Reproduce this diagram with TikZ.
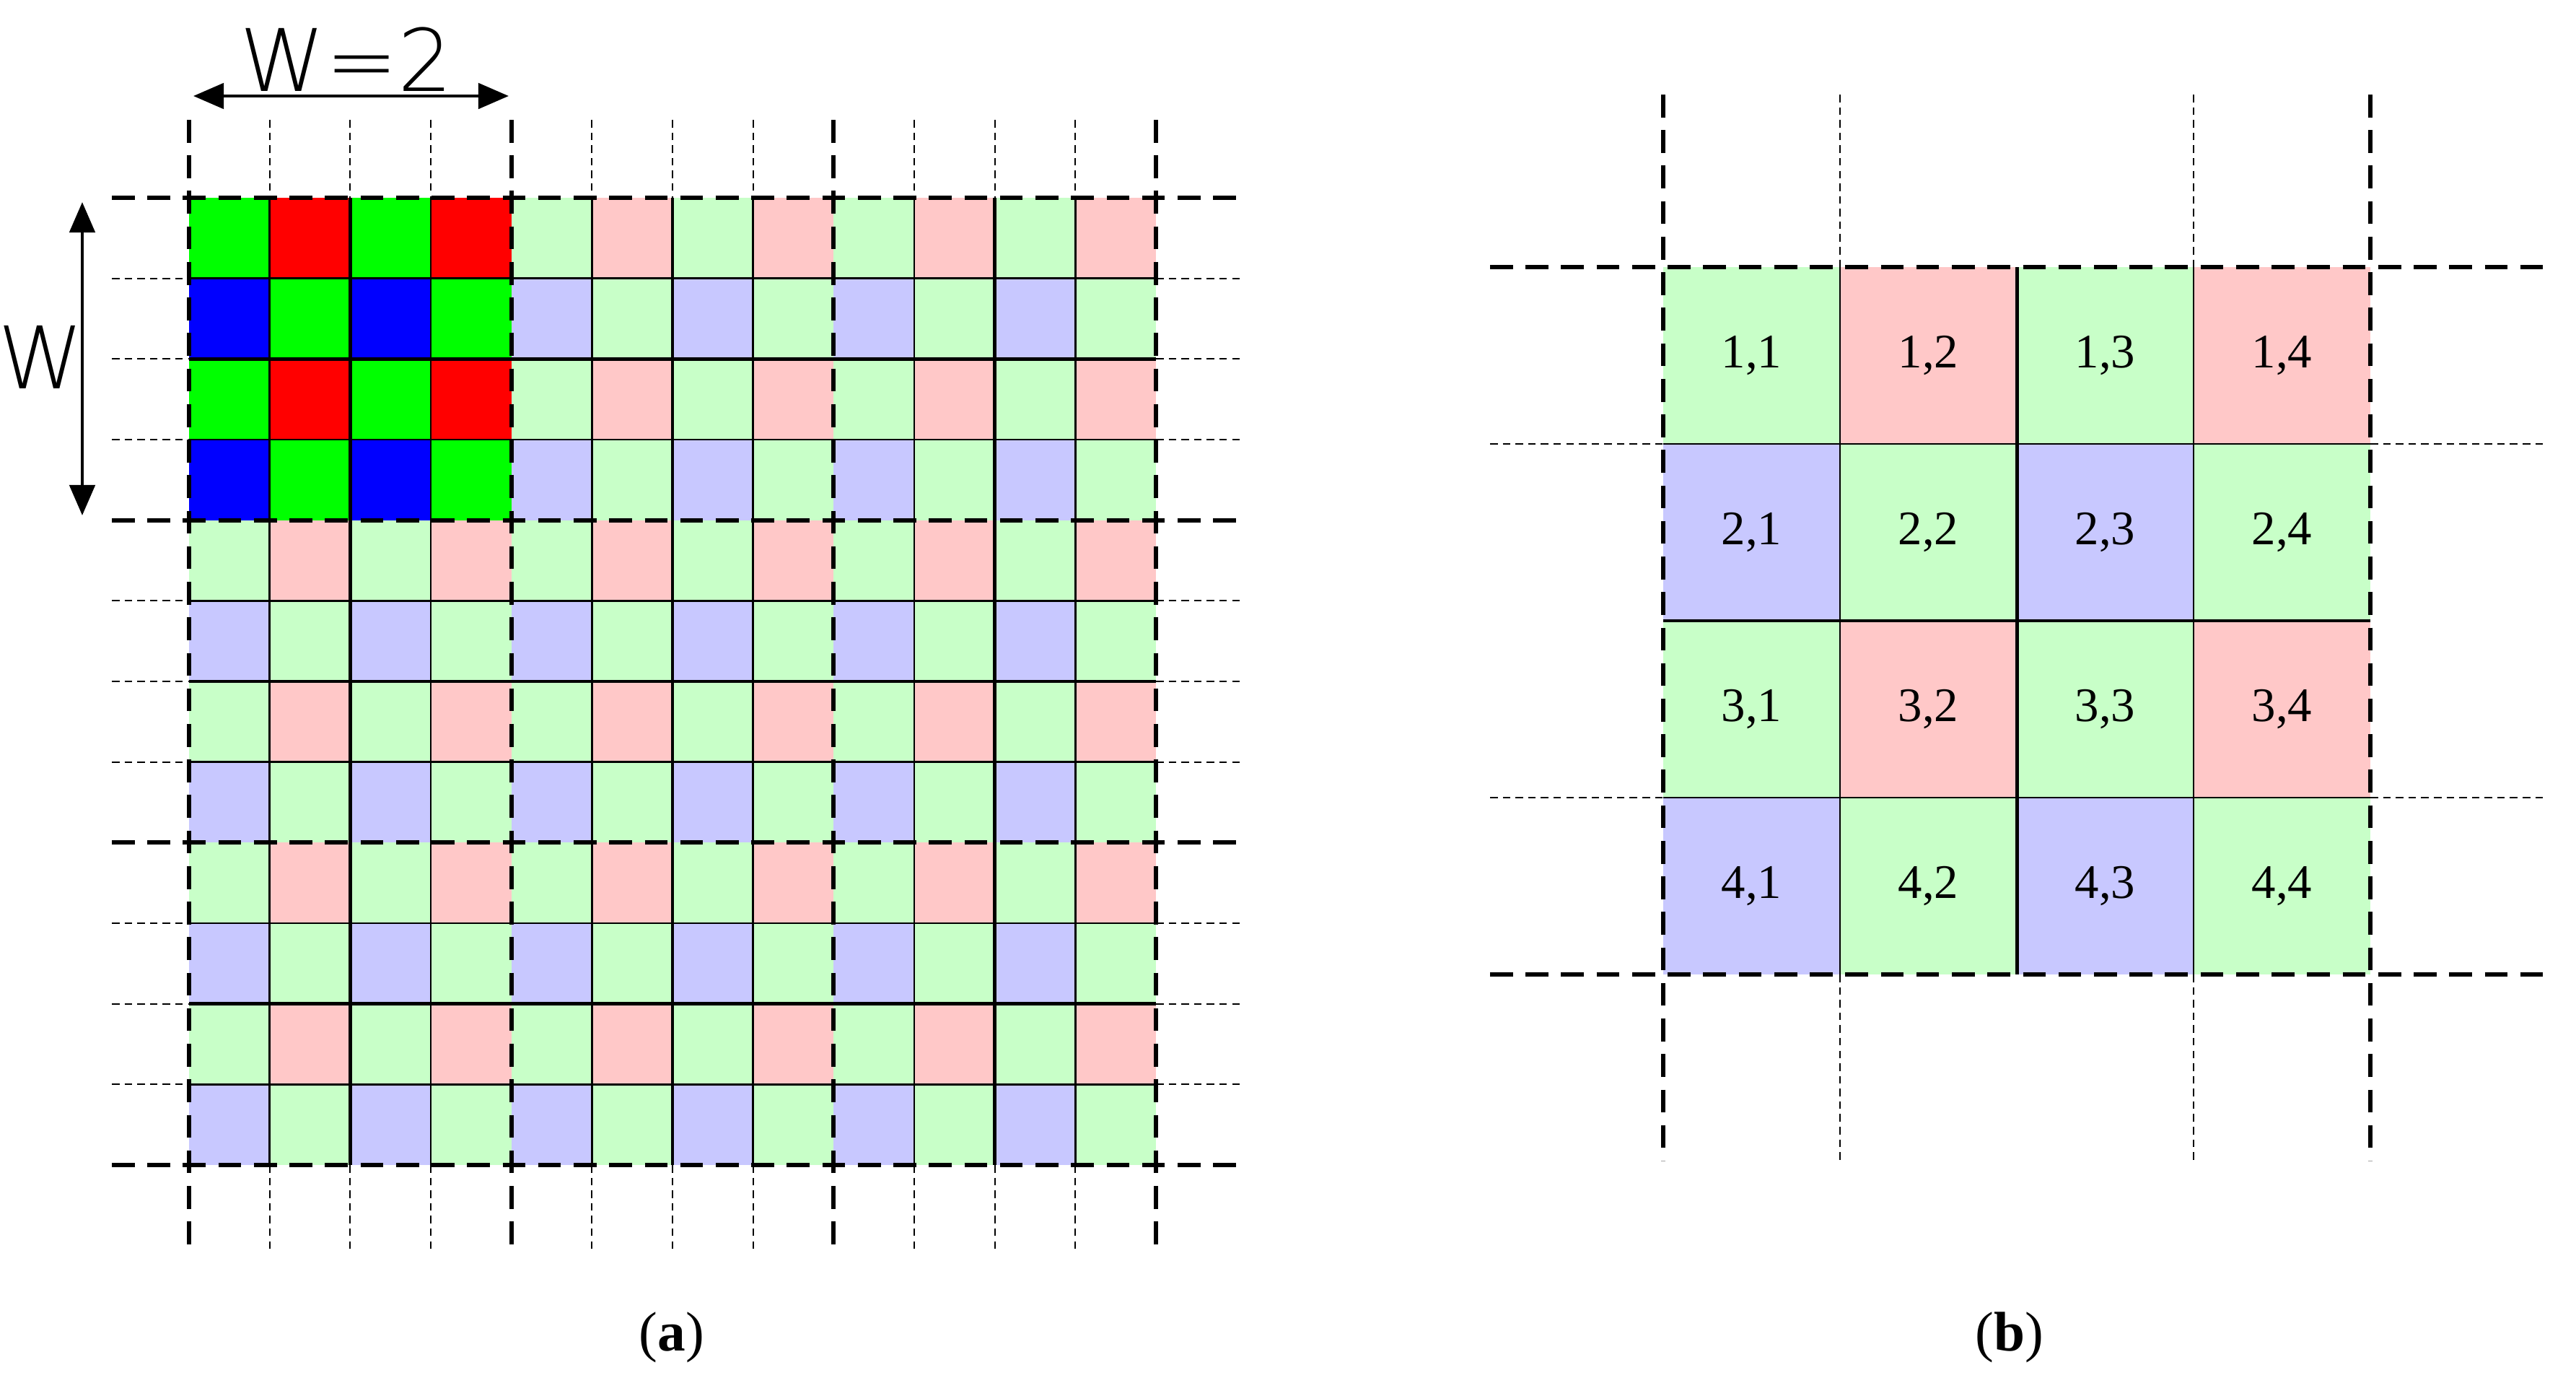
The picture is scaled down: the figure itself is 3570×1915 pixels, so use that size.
\documentclass[tikz,border=0pt]{standalone}
\usepackage{fontspec}
\setmainfont{Liberation Serif}
\newfontfamily\lblfont{DejaVu Sans ExtraLight}
\usetikzlibrary{arrows.meta}
\definecolor{G}{HTML}{00FF00}\definecolor{R}{HTML}{FF0000}\definecolor{B}{HTML}{0000FF}
\definecolor{lG}{HTML}{C8FFC8}\definecolor{lR}{HTML}{FFC8C8}\definecolor{lB}{HTML}{C8C8FF}
\tikzset{thickdash/.style={line width=1.7pt,dash pattern=on 9pt off 5pt},
thindash/.style={line width=0.6pt,dash pattern=on 3pt off 2pt},
thinsolid/.style={line width=0.8pt},thicksolid/.style={line width=1.4pt},
dimarrow/.style={line width=1.4pt,{Triangle[length=12pt,width=10pt]}-{Triangle[length=12pt,width=10pt]}}}
\begin{document}
\begin{tikzpicture}[x=0.01cm,y=-0.01cm]
\useasboundingbox (0,0) rectangle (3570,1915);
% panel a
\def\L{262}\def\T{274}\def\c{111.67}
\foreach \i in {0,...,11}{\foreach \j in {0,...,11}{
  \pgfmathsetmacro{\x}{\L+\i*\c}\pgfmathsetmacro{\y}{\T+\j*\c}
  \pgfmathtruncatemacro{\bright}{(\i<4)&&(\j<4)}
  \pgfmathtruncatemacro{\pa}{mod(\i+\j,2)}\pgfmathtruncatemacro{\rw}{mod(\j,2)}
  \ifnum\pa=0 \def\col{G}\else\ifnum\rw=0 \def\col{R}\else\def\col{B}\fi\fi
  \ifnum\bright=0 \edef\col{l\col}\fi
  \fill[\col] (\x,\y) rectangle ++(\c,\c);
}}
\foreach \k in {1,...,11}{
  \pgfmathsetmacro{\p}{\L+\k*\c}\pgfmathsetmacro{\q}{\T+\k*\c}
  \pgfmathtruncatemacro{\m}{mod(\k,4)}\pgfmathtruncatemacro{\e}{mod(\k,2)}
  \ifnum\m=0\else
   \ifnum\e=0 \draw[thicksolid] (\p,\T)--(\p,1614); \draw[thicksolid] (\L,\q)--(1602,\q);
   \else \draw[thinsolid] (\p,\T)--(\p,1614); \draw[thinsolid] (\L,\q)--(1602,\q);\fi
   \draw[thindash] (\p,166)--(\p,\T); \draw[thindash] (\p,1614)--(\p,1732);
   \draw[thindash] (155,\q)--(\L,\q); \draw[thindash] (1602,\q)--(1720,\q);
  \fi}
\foreach \k in {0,4,8,12}{
  \pgfmathsetmacro{\p}{\L+\k*\c}
  \draw[thickdash] (\p,166)--(\p,1732); \draw[thickdash] (155,\p+12)--(1720,\p+12);}
\coordinate (a1) at (268,133);\coordinate (a2) at (705,133);
\draw[dimarrow] (a1)--(a2);
\node[font=\lblfont\fontsize{34}{34}\selectfont] (w2) at (480,82) {W=2};
\coordinate (b1) at (114,280);\coordinate (b2) at (114,714);
\draw[dimarrow] (b1)--(b2);
\node[font=\lblfont\fontsize{34}{34}\selectfont] (w) at (57,495) {W};
\node[font=\fontsize{22}{22}\selectfont] (capa) at (931,1853) {(\textbf{a})};
% panel b
\def\LL{2305}\def\TT{370}\def\cc{245}
\foreach \i in {0,...,3}{\foreach \j in {0,...,3}{
  \pgfmathsetmacro{\x}{\LL+\i*\cc}\pgfmathsetmacro{\y}{\TT+\j*\cc}
  \pgfmathtruncatemacro{\pa}{mod(\i+\j,2)}\pgfmathtruncatemacro{\rw}{mod(\j,2)}
  \ifnum\pa=0 \def\col{lG}\else\ifnum\rw=0 \def\col{lR}\else\def\col{lB}\fi\fi
  \fill[\col] (\x,\y) rectangle ++(\cc,\cc);
  \pgfmathtruncatemacro{\r}{\j+1}\pgfmathtruncatemacro{\s}{\i+1}
  \node[font=\fontsize{19}{19}\selectfont] (c\r\s) at (\x+\cc/2,\y+\cc/2) {\r,\s};
}}
\foreach \k in {1,2,3}{
  \pgfmathsetmacro{\p}{\LL+\k*\cc}\pgfmathsetmacro{\q}{\TT+\k*\cc}
  \ifnum\k=2 \draw[thicksolid] (\p,\TT)--(\p,1350); \draw[thicksolid] (\LL,\q)--(3285,\q);
  \else \draw[thinsolid] (\p,\TT)--(\p,1350); \draw[thinsolid] (\LL,\q)--(3285,\q);
   \draw[thindash] (\p,131)--(\p,\TT); \draw[thindash] (\p,1350)--(\p,1608);
   \draw[thindash] (2065,\q)--(\LL,\q); \draw[thindash] (3285,\q)--(3530,\q);\fi}
\foreach \k in {0,4}{
  \pgfmathsetmacro{\p}{\LL+\k*\cc}\pgfmathsetmacro{\q}{\TT+\k*\cc}
  \draw[thickdash] (\p,131)--(\p,1608); \draw[thickdash] (2065,\q)--(3530,\q);}
\node[font=\fontsize{22}{22}\selectfont] (capb) at (2785,1853) {(\textbf{b})};
\end{tikzpicture}
\end{document}
